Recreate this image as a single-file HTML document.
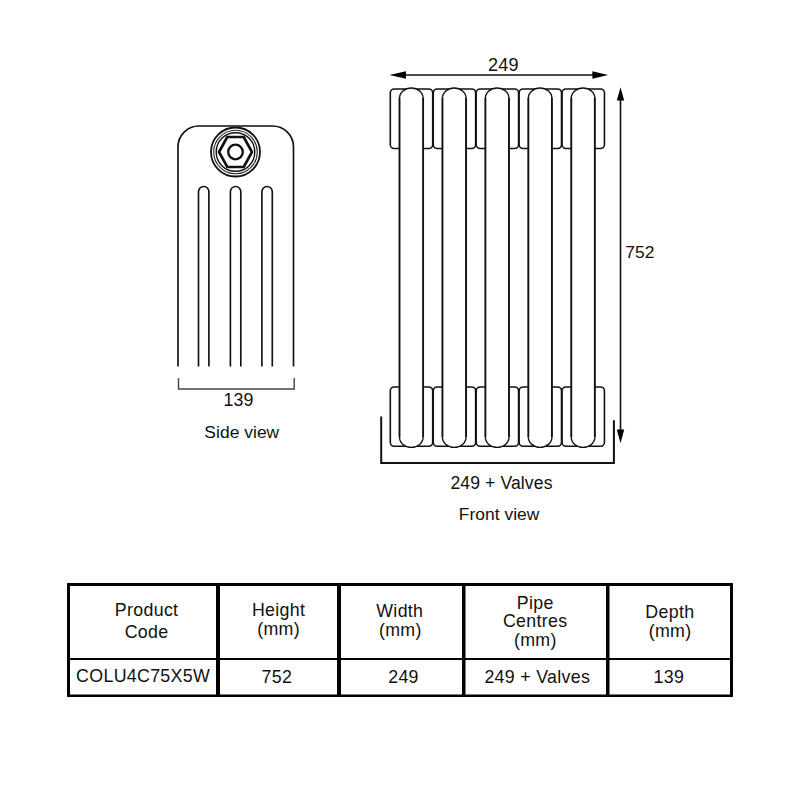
<!DOCTYPE html>
<html><head><meta charset="utf-8"><title>Radiator dimensions</title>
<style>
html,body{margin:0;padding:0;background:#fff;width:800px;height:800px;overflow:hidden}
svg{display:block}
text{font-family:"Liberation Sans",sans-serif;font-size:17.8px;fill:#111;letter-spacing:0.15px}
text.tb{font-size:17.8px;letter-spacing:0.32px}
</style></head>
<body>
<svg width="800" height="800" viewBox="0 0 800 800">
<rect width="800" height="800" fill="#fff"/>
<path d="M178,366.5 V147 A21,21 0 0 1 199,126 H272.5 A21,21 0 0 1 293.5,147 V366.5" fill="none" stroke="#111" stroke-width="1.65"/>
<circle cx="235.5" cy="152" r="24.5" fill="none" stroke="#111" stroke-width="1.8"/>
<circle cx="235.5" cy="152" r="21.8" fill="none" stroke="#222" stroke-width="1.1"/>
<circle cx="235.5" cy="152" r="19.3" fill="none" stroke="#111" stroke-width="1.4"/>
<polygon points="219.0,152 227.25,137 243.75,137 252.0,152 243.75,167 227.25,167" fill="none" stroke="#111" stroke-width="2.7"/>
<circle cx="235.5" cy="152" r="7.3" fill="none" stroke="#111" stroke-width="2.3"/>
<path d="M198.50,366.5 V191.70 A5.2,5.2 0 0 1 208.90,191.70 V366.5" fill="none" stroke="#111" stroke-width="1.65"/>
<path d="M230.40,366.5 V191.70 A5.2,5.2 0 0 1 240.80,191.70 V366.5" fill="none" stroke="#111" stroke-width="1.65"/>
<path d="M261.90,366.5 V191.70 A5.2,5.2 0 0 1 272.30,191.70 V366.5" fill="none" stroke="#111" stroke-width="1.65"/>
<path d="M178.5,378 V389 H294.2 V378" fill="none" stroke="#444" stroke-width="1.4"/>
<text x="238.5" y="405.8" text-anchor="middle">139</text>
<text x="241.8" y="438.4" text-anchor="middle" style="font-size:17.4px;letter-spacing:0.05px">Side view</text>
<rect x="390.30" y="89" width="42.40" height="59.50" rx="4" fill="#fff" stroke="#111" stroke-width="1.6"/>
<rect x="390.30" y="387" width="42.40" height="59.30" rx="4" fill="#fff" stroke="#111" stroke-width="1.6"/>
<rect x="433.24" y="89" width="42.40" height="59.50" rx="4" fill="#fff" stroke="#111" stroke-width="1.6"/>
<rect x="433.24" y="387" width="42.40" height="59.30" rx="4" fill="#fff" stroke="#111" stroke-width="1.6"/>
<rect x="476.18" y="89" width="42.40" height="59.50" rx="4" fill="#fff" stroke="#111" stroke-width="1.6"/>
<rect x="476.18" y="387" width="42.40" height="59.30" rx="4" fill="#fff" stroke="#111" stroke-width="1.6"/>
<rect x="519.12" y="89" width="42.40" height="59.50" rx="4" fill="#fff" stroke="#111" stroke-width="1.6"/>
<rect x="519.12" y="387" width="42.40" height="59.30" rx="4" fill="#fff" stroke="#111" stroke-width="1.6"/>
<rect x="562.06" y="89" width="42.40" height="59.50" rx="4" fill="#fff" stroke="#111" stroke-width="1.6"/>
<rect x="562.06" y="387" width="42.40" height="59.30" rx="4" fill="#fff" stroke="#111" stroke-width="1.6"/>
<path d="M399.50,97.60 A11.8,10.2 0 0 1 423.10,97.60 V437.80 A11.8,10.2 0 0 1 399.50,437.80 Z" fill="#fff" stroke="none"/>
<path d="M399.50,98.10 V437.30 M423.10,98.10 V437.30" fill="none" stroke="#111" stroke-width="1.9"/>
<path d="M399.50,98.20 A11.8,10.2 0 0 1 423.10,98.20 M423.10,437.20 A11.8,10.2 0 0 1 399.50,437.20" fill="none" stroke="#111" stroke-width="1.4"/>
<path d="M442.44,97.60 A11.8,10.2 0 0 1 466.04,97.60 V437.80 A11.8,10.2 0 0 1 442.44,437.80 Z" fill="#fff" stroke="none"/>
<path d="M442.44,98.10 V437.30 M466.04,98.10 V437.30" fill="none" stroke="#111" stroke-width="1.9"/>
<path d="M442.44,98.20 A11.8,10.2 0 0 1 466.04,98.20 M466.04,437.20 A11.8,10.2 0 0 1 442.44,437.20" fill="none" stroke="#111" stroke-width="1.4"/>
<path d="M485.38,97.60 A11.8,10.2 0 0 1 508.98,97.60 V437.80 A11.8,10.2 0 0 1 485.38,437.80 Z" fill="#fff" stroke="none"/>
<path d="M485.38,98.10 V437.30 M508.98,98.10 V437.30" fill="none" stroke="#111" stroke-width="1.9"/>
<path d="M485.38,98.20 A11.8,10.2 0 0 1 508.98,98.20 M508.98,437.20 A11.8,10.2 0 0 1 485.38,437.20" fill="none" stroke="#111" stroke-width="1.4"/>
<path d="M528.32,97.60 A11.8,10.2 0 0 1 551.92,97.60 V437.80 A11.8,10.2 0 0 1 528.32,437.80 Z" fill="#fff" stroke="none"/>
<path d="M528.32,98.10 V437.30 M551.92,98.10 V437.30" fill="none" stroke="#111" stroke-width="1.9"/>
<path d="M528.32,98.20 A11.8,10.2 0 0 1 551.92,98.20 M551.92,437.20 A11.8,10.2 0 0 1 528.32,437.20" fill="none" stroke="#111" stroke-width="1.4"/>
<path d="M571.26,97.60 A11.8,10.2 0 0 1 594.86,97.60 V437.80 A11.8,10.2 0 0 1 571.26,437.80 Z" fill="#fff" stroke="none"/>
<path d="M571.26,98.10 V437.30 M594.86,98.10 V437.30" fill="none" stroke="#111" stroke-width="1.9"/>
<path d="M571.26,98.20 A11.8,10.2 0 0 1 594.86,98.20 M594.86,437.20 A11.8,10.2 0 0 1 571.26,437.20" fill="none" stroke="#111" stroke-width="1.4"/>
<line x1="404" y1="75" x2="594" y2="75" stroke="#111" stroke-width="1.6"/>
<polygon points="389.4,75 406,71.2 406,78.8" fill="#000"/>
<polygon points="608.1,75 592.4,71.2 592.4,78.8" fill="#000"/>
<text x="503.4" y="70.8" text-anchor="middle" style="font-size:18.1px;letter-spacing:0.2px">249</text>
<line x1="620.5" y1="99" x2="620.5" y2="431" stroke="#111" stroke-width="1.6"/>
<polygon points="620.5,87.3 616.8,100.5 624.2,100.5" fill="#000"/>
<polygon points="620.5,443.3 616.8,429.6 624.2,429.6" fill="#000"/>
<text x="625.3" y="258.1" style="font-size:17.4px;letter-spacing:0.1px">752</text>
<path d="M381.2,416.5 V463 H613.9 V420.2" fill="none" stroke="#111" stroke-width="2"/>
<text x="501.5" y="488.5" text-anchor="middle" style="font-size:17.6px;letter-spacing:0.1px">249 + Valves</text>
<text x="499.1" y="519.7" text-anchor="middle" style="font-size:17.4px;letter-spacing:0.05px">Front view</text>
<rect x="67" y="583" width="666" height="3" fill="#000"/>
<rect x="67" y="694.5" width="666" height="2.5" fill="#000"/>
<rect x="67" y="583" width="3" height="114" fill="#000"/>
<rect x="730" y="583" width="3" height="114" fill="#000"/>
<rect x="216" y="583" width="4" height="114" fill="#000"/>
<rect x="337" y="583" width="4" height="114" fill="#000"/>
<rect x="462" y="583" width="3.5" height="114" fill="#000"/>
<rect x="606" y="583" width="3.5" height="114" fill="#000"/>
<rect x="67" y="658" width="666" height="2" fill="#000"/>
<text class="tb" x="146.6" y="615.9" text-anchor="middle">Product</text>
<text class="tb" x="146.6" y="638.2" text-anchor="middle">Code</text>
<text class="tb" x="278.6" y="616.4" text-anchor="middle">Height</text>
<text class="tb" x="278.6" y="634.8" text-anchor="middle">(mm)</text>
<text class="tb" x="399.8" y="617.0" text-anchor="middle">Width</text>
<text class="tb" x="400.3" y="635.9" text-anchor="middle">(mm)</text>
<text class="tb" x="535.3" y="608.7" text-anchor="middle">Pipe</text>
<text class="tb" x="535.2" y="627.2" text-anchor="middle">Centres</text>
<text class="tb" x="535.3" y="646.4" text-anchor="middle">(mm)</text>
<text class="tb" x="669.9" y="617.6" text-anchor="middle">Depth</text>
<text class="tb" x="670.1" y="637.0" text-anchor="middle">(mm)</text>
<text class="tb" x="143.1" y="682.1" text-anchor="middle">COLU4C75X5W</text>
<text class="tb" x="276.9" y="682.5" text-anchor="middle">752</text>
<text class="tb" x="403.5" y="682.5" text-anchor="middle">249</text>
<text class="tb" x="537.3" y="682.5" text-anchor="middle">249 + Valves</text>
<text class="tb" x="668.9" y="682.5" text-anchor="middle">139</text>
</svg>
</body></html>
